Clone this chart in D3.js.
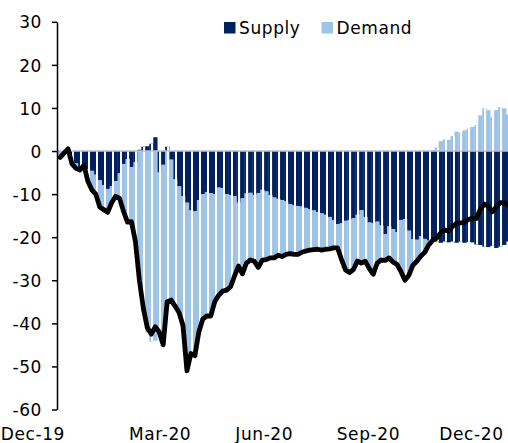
<!DOCTYPE html>
<html>
<head>
<meta charset="utf-8">
<script src="https://cdn.jsdelivr.net/npm/d3@7"></script>
<style>
  body { margin: 0; background: #fff; }
  text { font-family: "DejaVu Sans", Verdana, sans-serif; font-size: 17px; letter-spacing: 0.6px; fill: #000; }
</style>
</head>
<body>
<svg id="chart" width="508" height="443"></svg>
<script>
// half-weekly readings, starting Monday 2 Dec 2019
const firstDate = "2019-12-02";
const supply = [
  0, 0, 0, -2.5, -2.9, -4, -3, -4.2, -4.6, -5.5,
  -6.8, -7.9, -8.8, -8.2, -7, -5.2, -3, -1.9, -3.7, -2.6,
  0.3, 1, 1.1, 1.7, 3.2, -5, -3.2, 1, -2, -6.5,
  -8.2, -10.5, -12, -13.8, -14, -11.4, -10, -9.5, -9.8, -10,
  -8.5, -8.6, -10, -10.2, -10.5, -12, -11, -9.8, -9.7, -10.2,
  -9.8, -9, -9.4, -10.2, -10.8, -11.1, -11.4, -11.7, -12.3, -12.6,
  -12.8, -12.9, -13.2, -13.5, -13.8, -14.2, -14.5, -14.8, -15.3, -16,
  -17, -16.8, -16.2, -16, -15.6, -14.8, -13.7, -15.3, -16.6, -16.8,
  -16.4, -17.3, -19.3, -17.5, -18.1, -18.8, -16, -15.8, -18.5, -20.5,
  -20.6, -19.8, -20.4, -20.8, -20.9, -21, -21.3, -21, -21.2, -21,
  -21.3, -21, -21.3, -21.1, -21.2, -21.7, -21.8, -22.2, -22.3, -22,
  -22.5, -22.2, -21.8, -21
];
const demand = [
  -1.5, -0.5, 0.5, -0.5, -1.1, -0.4, -0.3, -2.8, -4.4, -4.5,
  -6.2, -5.7, -5.4, -3.8, -3.5, -5.8, -11, -14.6, -12.7, -18.4,
  -30.3, -37.5, -42.1, -44.2, -44, -37, -41.8, -36, -32.6, -29.5,
  -29.3, -30, -39, -33.2, -33.5, -30.6, -29, -28.8, -28.5, -25,
  -25, -23.9, -22.3, -21.3, -18.5, -14.7, -17.5, -16.2, -15.6, -15.4,
  -17.2, -16.3, -15.8, -14.6, -14, -13.1, -13.1, -12.3, -11.5, -11.4,
  -11.2, -10.6, -10, -9.5, -9.1, -8.6, -8.5, -8, -7.4, -6.5,
  -5.5, -8.4, -11.4, -12.2, -11.9, -10.7, -12.3, -10.3, -10.7, -11.8,
  -9.6, -8, -6.1, -7.3, -7.7, -7.5, -12, -14.2, -10.3, -6,
  -5, -4.6, -3.1, -1, 0.2, 0.8, 2.3, 2.7, 2.6, 3.5,
  4.5, 4.3, 4.8, 5.2, 5.6, 6, 8.3, 9.9, 9.5, 7.9,
  9.5, 10.2, 9.9, 8.5
];
const seriesNames = ["Supply", "Demand"];
const seriesColors = ["#002060", "#9dc3e6"];
const yTicks = [30, 20, 10, 0, -10, -20, -30, -40, -50, -60];
const xTickLabels = ["Dec-19", "Mar-20", "Jun-20", "Sep-20", "Dec-20"];
const xTickDates = ["2019-12-01", "2020-03-01", "2020-06-01", "2020-09-01", "2020-12-01"];

function drawChart() {
    const svg = d3.select("#chart");
    const parse = d3.utcParse("%Y-%m-%d");
    const start = parse(firstDate);

    const rows = supply.map((s, i) => ({
        idx: i,
        date: d3.utcHour.offset(start, 84 * i),
        end: d3.utcHour.offset(start, 84 * (i + 1)),
        Supply: s,
        Demand: demand[i]
    }));

    const x = d3.scaleUtc()
        .domain([parse("2019-12-01"), parse("2021-01-04")])
        .range([57, 510]);

    const y = d3.scaleLinear()
        .domain([-60, 30])
        .range([409.5, 21.8]);

    const stack = d3.stack()
        .keys(seriesNames)
        .offset(d3.stackOffsetDiverging);
    const layers = stack(rows);

    // stacked bars
    svg.append("g")
        .selectAll("g")
        .data(layers)
        .enter()
        .append("g")
        .attr("fill", (d, i) => seriesColors[i])
        .selectAll("rect")
        .data(d => d)
        .enter()
        .append("rect")
        .attr("x", d => x(d.data.date))
        .attr("width", d => x(d.data.end) - x(d.data.date) + 0.3)
        .attr("y", d => y(Math.max(d[0], d[1])))
        .attr("height", d => Math.abs(y(d[0]) - y(d[1])));

    // white weekend gaps between the weekly blocks of bars
    const weekEnds = rows.filter(d => d.idx % 2 === 1);
    svg.append("g")
        .selectAll("rect")
        .data(weekEnds)
        .enter()
        .append("rect")
        .attr("x", d => Math.round(x(d.end)) - 2)
        .attr("width", 2)
        .attr("y", d => y(Math.max(0, d.Supply) + Math.max(0, d.Demand)))
        .attr("height", d => y(Math.min(0, d.Supply) + Math.min(0, d.Demand)) - y(Math.max(0, d.Supply) + Math.max(0, d.Demand)))
        .attr("fill", "#ffffff");

    // zero line
    svg.append("line")
        .attr("x1", x.range()[0])
        .attr("x2", 508)
        .attr("y1", y(0))
        .attr("y2", y(0))
        .attr("stroke", "#c0c0c0")
        .attr("stroke-width", 1.5);

    // net balance line
    const netLine = d3.line()
        .x(d => x(new Date((d.date.getTime() + d.end.getTime()) / 2)))
        .y(d => y(d.Supply + d.Demand));

    svg.append("path")
        .datum(rows)
        .attr("fill", "none")
        .attr("stroke", "#000")
        .attr("stroke-width", 4.8)
        .attr("stroke-linejoin", "round")
        .attr("stroke-linecap", "round")
        .attr("d", netLine);

    // y axis
    const yAxis = svg.append("g")
        .attr("transform", `translate(${x.range()[0]},0)`)
        .call(d3.axisLeft(y).tickValues(yTicks).tickFormat(d => String(d))
            .tickSize(5).tickSizeOuter(0).tickPadding(10));
    yAxis.select(".domain").attr("stroke", "#000").attr("stroke-width", 1.5);
    yAxis.selectAll(".tick line").attr("stroke", "#000").attr("stroke-width", 1.5);
    yAxis.selectAll("text")
        .attr("font-family", null)
        .attr("font-size", null)
        .attr("dy", "0.36em");

    // x labels
    svg.append("g")
        .selectAll("text")
        .data(xTickLabels)
        .enter()
        .append("text")
        .attr("x", (d, i) => x(parse(xTickDates[i])))
        .attr("dx", (d, i) => i === 0 ? 8 : 0)
        .attr("y", 440)
        .attr("text-anchor", (d, i) => i === 0 ? "end" : "middle")
        .text(d => d);

    // legend
    const legend = svg.append("g");
    let lx = 224;
    seriesNames.forEach((name, i) => {
        legend.append("rect")
            .attr("x", lx)
            .attr("y", 22)
            .attr("width", 11.5)
            .attr("height", 11.5)
            .attr("fill", seriesColors[i]);
        const t = legend.append("text")
            .attr("x", lx + 15)
            .attr("y", 34.3)
            .text(name);
        lx += 15 + t.node().getComputedTextLength() + 21;
    });
}

document.addEventListener("DOMContentLoaded", drawChart);
</script>
</body>
</html>
